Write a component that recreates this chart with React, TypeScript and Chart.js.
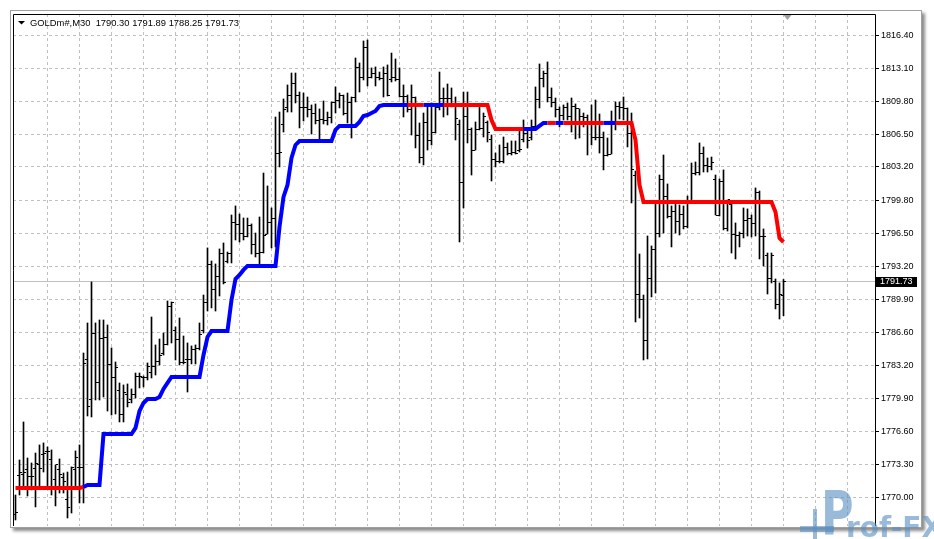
import React, { useEffect, useRef } from "react";
import { Chart, registerables } from "chart.js";

Chart.register(...registerables);

const symbolTitle = "GOLDm#,M30";
const titleQuote = ["1790.30", "1791.89", "1788.25", "1791.73"];
const priceTicks = [1770.0, 1773.3, 1776.6, 1779.9, 1783.2, 1786.6, 1789.9, 1793.2, 1796.5, 1799.8, 1803.2, 1806.5, 1809.8, 1813.1, 1816.4];

const opens = [
  1768.22, 1772.14, 1772.24, 1772.75, 1772.04, 1772.85, 1773.25, 1774.25, 1774.56, 1773.75,
  1771.74, 1772.75, 1771.94, 1769.73, 1770.74, 1772.75, 1772.95, 1772.95, 1783.80, 1779.78,
  1786.51, 1781.49, 1785.91, 1786.01, 1783.30, 1781.99, 1780.78, 1778.27, 1780.38, 1779.78,
  1780.38, 1782.09, 1781.99, 1781.99, 1782.59, 1783.10, 1783.60, 1784.50, 1785.31, 1789.13,
  1786.81, 1785.81, 1783.50, 1783.80, 1783.80, 1784.81, 1784.91, 1786.81, 1789.53, 1793.35,
  1790.84, 1792.14, 1794.55, 1793.65, 1794.55, 1797.57, 1797.37, 1796.56, 1796.16, 1797.27,
  1795.36, 1794.55, 1794.65, 1796.46, 1797.57, 1797.97, 1804.60, 1807.42, 1809.13, 1810.33,
  1811.54, 1810.33, 1809.13, 1809.13, 1808.93, 1808.62, 1807.82, 1807.92, 1807.82, 1808.12,
  1809.63, 1809.83, 1810.33, 1808.62, 1809.63, 1810.13, 1813.15, 1812.14, 1815.16, 1812.14,
  1812.64, 1812.14, 1812.04, 1812.64, 1811.94, 1812.14, 1811.94, 1810.23, 1810.23, 1808.93,
  1810.13, 1806.31, 1804.10, 1807.62, 1805.81, 1806.71, 1809.13, 1810.03, 1810.03, 1810.03,
  1809.43, 1807.42, 1801.59, 1808.22, 1806.92, 1804.90, 1806.92, 1807.02, 1807.62, 1805.91,
  1803.90, 1803.70, 1803.70, 1805.11, 1804.60, 1804.70, 1804.90, 1805.91, 1806.61, 1806.11,
  1807.22, 1809.93, 1812.04, 1812.64, 1810.13, 1809.63, 1808.93, 1808.42, 1809.13, 1808.22,
  1809.23, 1809.03, 1808.22, 1808.12, 1807.42, 1806.11, 1806.11, 1806.11, 1804.40, 1804.50,
  1807.42, 1809.23, 1809.13, 1809.03, 1806.61, 1802.39, 1790.43, 1789.83, 1785.71, 1791.94,
  1794.86, 1796.56, 1801.89, 1800.18, 1798.17, 1798.77, 1797.67, 1798.47, 1797.17, 1799.58,
  1802.59, 1802.69, 1804.60, 1803.30, 1803.20, 1801.89, 1798.37, 1801.69, 1796.97, 1799.38,
  1796.46, 1796.36, 1796.56, 1797.77, 1797.97, 1797.47, 1800.68, 1796.16, 1794.35, 1791.94,
  1791.64, 1789.33, 1790.30,
];

const highs = [
  1770.23, 1773.75, 1777.57, 1773.95, 1773.45, 1774.45, 1775.26, 1775.46, 1775.06, 1774.76,
  1773.25, 1773.85, 1772.44, 1772.54, 1773.05, 1774.66, 1775.26, 1784.50, 1787.52, 1791.64,
  1787.52, 1787.82, 1787.82, 1787.32, 1785.01, 1783.60, 1781.49, 1781.29, 1781.39, 1780.89,
  1782.49, 1782.49, 1782.19, 1783.50, 1788.12, 1785.31, 1785.91, 1786.51, 1789.73, 1789.63,
  1787.12, 1788.02, 1786.21, 1785.51, 1785.21, 1785.31, 1787.52, 1790.33, 1795.06, 1793.75,
  1793.45, 1794.96, 1795.56, 1794.65, 1798.37, 1799.28, 1798.47, 1798.07, 1798.07, 1797.47,
  1796.56, 1798.17, 1802.59, 1801.29, 1799.08, 1808.22, 1808.72, 1810.03, 1811.44, 1812.64,
  1812.64, 1810.73, 1810.63, 1810.23, 1809.43, 1809.53, 1809.03, 1809.83, 1808.72, 1809.73,
  1811.24, 1810.63, 1810.43, 1810.63, 1810.23, 1814.15, 1813.65, 1815.86, 1815.96, 1813.15,
  1813.25, 1812.74, 1813.25, 1813.45, 1814.65, 1814.05, 1813.15, 1811.44, 1810.43, 1811.44,
  1810.23, 1807.62, 1808.62, 1809.43, 1809.63, 1809.43, 1812.74, 1811.14, 1811.54, 1811.14,
  1810.23, 1807.92, 1810.73, 1810.73, 1807.12, 1807.72, 1809.43, 1808.62, 1807.82, 1806.41,
  1804.60, 1805.41, 1806.21, 1805.61, 1805.81, 1805.81, 1806.82, 1807.92, 1807.12, 1807.92,
  1811.24, 1813.55, 1812.84, 1813.75, 1811.14, 1810.13, 1809.23, 1809.43, 1809.63, 1810.13,
  1809.53, 1809.03, 1808.62, 1808.42, 1809.43, 1809.93, 1808.52, 1806.71, 1806.11, 1808.82,
  1809.73, 1809.73, 1810.23, 1809.13, 1808.62, 1802.79, 1794.45, 1790.33, 1796.26, 1795.26,
  1799.58, 1802.39, 1804.40, 1801.49, 1799.28, 1799.78, 1799.38, 1799.28, 1800.28, 1803.60,
  1803.70, 1805.61, 1805.21, 1804.10, 1804.20, 1802.39, 1801.99, 1802.90, 1799.88, 1799.78,
  1797.57, 1796.66, 1799.08, 1798.98, 1798.37, 1801.09, 1800.78, 1796.97, 1794.55, 1794.55,
  1791.94, 1791.54, 1791.89,
];

const lows = [
  1767.72, 1770.23, 1770.94, 1770.13, 1770.74, 1769.03, 1771.04, 1772.54, 1770.94, 1770.23,
  1769.13, 1770.43, 1770.43, 1767.92, 1768.42, 1771.04, 1769.43, 1769.43, 1778.17, 1778.07,
  1779.78, 1779.78, 1780.08, 1778.67, 1778.27, 1778.37, 1777.57, 1777.57, 1779.08, 1779.48,
  1779.98, 1780.99, 1781.09, 1781.79, 1781.99, 1782.29, 1783.30, 1784.30, 1785.31, 1785.51,
  1783.80, 1783.30, 1783.40, 1780.58, 1783.40, 1783.40, 1784.81, 1786.51, 1788.72, 1789.03,
  1788.72, 1790.23, 1791.44, 1793.55, 1793.55, 1795.86, 1795.66, 1795.86, 1796.16, 1794.45,
  1794.15, 1793.35, 1794.55, 1796.46, 1795.06, 1795.16, 1803.20, 1806.71, 1808.72, 1808.72,
  1809.63, 1807.12, 1807.82, 1808.22, 1806.51, 1807.52, 1806.01, 1807.52, 1807.42, 1807.62,
  1808.62, 1809.13, 1808.42, 1807.62, 1806.11, 1809.73, 1810.73, 1811.94, 1811.34, 1812.14,
  1811.34, 1811.94, 1810.23, 1810.33, 1811.74, 1811.84, 1810.23, 1808.22, 1808.72, 1806.41,
  1805.11, 1803.60, 1803.40, 1804.90, 1805.41, 1806.61, 1808.93, 1808.22, 1808.42, 1809.23,
  1805.91, 1795.66, 1799.08, 1805.61, 1802.39, 1804.90, 1806.92, 1806.21, 1805.71, 1801.79,
  1803.20, 1803.60, 1803.60, 1804.40, 1804.40, 1804.50, 1804.70, 1805.71, 1805.11, 1805.91,
  1807.12, 1809.13, 1811.24, 1809.73, 1809.23, 1808.22, 1807.22, 1807.92, 1807.92, 1806.71,
  1806.01, 1806.11, 1807.22, 1804.40, 1805.41, 1805.91, 1804.60, 1802.90, 1804.30, 1804.50,
  1806.92, 1808.02, 1807.92, 1805.21, 1799.58, 1787.62, 1788.02, 1783.80, 1783.90, 1790.13,
  1790.53, 1796.16, 1796.56, 1798.07, 1795.16, 1796.56, 1796.36, 1796.97, 1797.07, 1799.58,
  1802.39, 1802.39, 1802.69, 1802.69, 1802.90, 1798.37, 1798.27, 1796.87, 1796.76, 1794.55,
  1793.95, 1795.16, 1796.06, 1796.26, 1796.16, 1796.26, 1793.95, 1793.25, 1790.43, 1791.54,
  1788.93, 1787.92, 1788.25,
];

const closes = [
  1768.52, 1772.54, 1772.54, 1772.04, 1772.04, 1773.35, 1772.85, 1774.45, 1774.56, 1770.94,
  1773.25, 1772.24, 1771.54, 1768.93, 1772.95, 1773.95, 1772.95, 1783.40, 1779.08, 1786.51,
  1781.49, 1785.91, 1786.01, 1783.30, 1781.99, 1783.00, 1778.27, 1780.58, 1779.48, 1780.38,
  1782.09, 1782.09, 1781.99, 1783.10, 1783.10, 1783.60, 1784.20, 1785.31, 1789.13, 1789.53,
  1785.81, 1783.50, 1783.50, 1783.80, 1784.81, 1784.91, 1786.31, 1789.53, 1793.35, 1790.84,
  1792.14, 1794.55, 1791.54, 1794.55, 1797.57, 1797.37, 1796.56, 1796.16, 1797.27, 1795.36,
  1794.55, 1794.65, 1796.36, 1797.57, 1797.97, 1804.60, 1804.70, 1808.93, 1810.33, 1811.54,
  1810.33, 1809.13, 1809.13, 1808.93, 1808.62, 1807.82, 1807.92, 1807.82, 1808.12, 1809.63,
  1809.83, 1810.33, 1808.62, 1809.63, 1810.13, 1813.15, 1812.14, 1815.16, 1812.14, 1812.64,
  1812.14, 1812.04, 1812.64, 1810.43, 1812.14, 1811.94, 1810.23, 1810.23, 1808.93, 1810.13,
  1806.31, 1804.10, 1807.62, 1805.81, 1806.71, 1809.13, 1810.03, 1810.03, 1810.03, 1809.43,
  1808.02, 1801.59, 1808.22, 1806.92, 1804.90, 1806.92, 1807.02, 1808.22, 1806.71, 1803.90,
  1803.70, 1803.70, 1805.11, 1804.60, 1804.70, 1804.60, 1805.00, 1806.61, 1805.81, 1807.22,
  1809.93, 1812.04, 1812.64, 1810.13, 1809.63, 1808.93, 1808.42, 1809.13, 1808.22, 1809.23,
  1809.03, 1808.22, 1808.12, 1807.42, 1806.11, 1806.11, 1806.11, 1804.40, 1804.50, 1807.42,
  1809.23, 1809.13, 1809.03, 1806.61, 1802.90, 1790.43, 1789.83, 1785.71, 1791.94, 1794.86,
  1796.56, 1801.89, 1800.18, 1798.17, 1798.77, 1797.67, 1798.47, 1797.17, 1799.58, 1802.59,
  1802.69, 1804.60, 1803.30, 1803.20, 1803.60, 1798.37, 1801.69, 1796.97, 1799.88, 1796.46,
  1796.36, 1796.56, 1797.77, 1797.97, 1797.47, 1800.68, 1796.16, 1796.16, 1791.94, 1794.35,
  1789.33, 1790.43, 1791.73,
];

const trendLine = [
  1770.94, 1770.94, 1770.94, 1770.94, 1770.94, 1770.94, 1770.94, 1770.94, 1770.94, 1770.94,
  1770.94, 1770.94, 1770.94, 1770.94, 1770.94, 1770.94, 1770.94, 1771.04, 1771.24, 1771.24,
  1771.24, 1771.24, 1776.36, 1776.36, 1776.36, 1776.36, 1776.36, 1776.36, 1776.36, 1776.36,
  1776.97, 1778.67, 1779.48, 1779.88, 1779.88, 1779.88, 1780.08, 1780.89, 1781.49, 1782.09,
  1782.09, 1782.09, 1782.09, 1782.09, 1782.09, 1782.09, 1782.09, 1784.30, 1786.11, 1786.71,
  1786.71, 1786.71, 1786.71, 1786.71, 1789.83, 1791.94, 1792.34, 1792.85, 1793.25, 1793.25,
  1793.25, 1793.25, 1793.25, 1793.25, 1793.25, 1793.25, 1797.17, 1800.18, 1801.39, 1804.10,
  1805.41, 1805.81, 1805.81, 1805.81, 1805.81, 1805.81, 1805.81, 1805.81, 1805.81, 1805.81,
  1806.92, 1807.32, 1807.32, 1807.32, 1807.32, 1807.32, 1807.72, 1808.32, 1808.42, 1808.62,
  1808.82, 1809.33, 1809.43, 1809.43, 1809.43, 1809.43, 1809.43, 1809.43, 1809.43, 1809.43,
  1809.43, 1809.43, 1809.43, 1809.43, 1809.43, 1809.43, 1809.43, 1809.43, 1809.43, 1809.43,
  1809.43, 1809.43, 1809.43, 1809.43, 1809.43, 1809.43, 1809.43, 1809.43, 1809.43, 1807.92,
  1807.02, 1807.02, 1807.02, 1807.02, 1807.02, 1807.02, 1807.02, 1807.02, 1807.02, 1807.02,
  1807.02, 1807.32, 1807.62, 1807.62, 1807.62, 1807.62, 1807.62, 1807.62, 1807.62, 1807.62,
  1807.62, 1807.62, 1807.62, 1807.62, 1807.62, 1807.62, 1807.62, 1807.62, 1807.62, 1807.62,
  1807.62, 1807.62, 1807.62, 1807.62, 1807.62, 1805.91, 1801.39, 1799.68, 1799.68, 1799.68,
  1799.68, 1799.68, 1799.68, 1799.68, 1799.68, 1799.68, 1799.68, 1799.68, 1799.68, 1799.68,
  1799.68, 1799.68, 1799.68, 1799.68, 1799.68, 1799.68, 1799.68, 1799.68, 1799.68, 1799.68,
  1799.68, 1799.68, 1799.68, 1799.68, 1799.68, 1799.68, 1799.68, 1799.68, 1799.68, 1799.68,
  1798.67, 1796.06, 1795.66,
];

// trend colour per bar: R = red (down), B = blue (up)
const trendColors =
  "RRRRRRRRRRRRRRRRR" +
  "BBBBBBBBBBBBBBBBBBBBBBBBBBBBBBBBBBBBBBBBBBBBBBBBBBBBBBBBBBBBBBBBBBBBBBBBBBBBBBBBB" +
  "RRRR" + "BBBBB" + "RRRRRRRRRRRRRRRRRRRR" + "BBBBBB" + "RR" + "BB" + "RRRRRRRRRR" + "BBB" +
  "RRRRRRRRRRRRRRRRRRRRRRRRRRRRRRRRRRRRRRRRR";

const BLUE = "#0000ff";
const RED = "#ff0000";
const GRID = "#c0c0c0";
const FONT = '"Liberation Sans", Arial, sans-serif';

function tickImage(side: "open" | "close") {
  const c = document.createElement("canvas");
  c.width = 5;
  c.height = 1;
  const g = c.getContext("2d")!;
  g.fillStyle = "#000";
  if (side === "open") g.fillRect(0, 0, 2, 1);
  else g.fillRect(3, 0, 2, 1);
  return c;
}

const decorPlugin = {
  id: "mt4decor",
  beforeDatasetsDraw(chart: any) {
    const { ctx, chartArea, scales } = chart;
    const y = Math.round(scales.y.getPixelForValue(closes[closes.length - 1])) + 0.5;
    ctx.save();
    ctx.strokeStyle = GRID;
    ctx.lineWidth = 1;
    ctx.beginPath();
    ctx.moveTo(chartArea.left, y);
    ctx.lineTo(chartArea.right, y);
    ctx.stroke();
    ctx.restore();
    ctx.imageSmoothingEnabled = false;
  },
  afterDraw(chart: any) {
    const { ctx, chartArea, scales } = chart;
    ctx.save();
    ctx.imageSmoothingEnabled = true;
    // frame lines
    ctx.strokeStyle = "#000";
    ctx.lineWidth = 1;
    ctx.beginPath();
    ctx.moveTo(chartArea.left + 0.5, chartArea.bottom);
    ctx.lineTo(chartArea.left + 0.5, chartArea.top + 0.5);
    ctx.lineTo(chartArea.right + 0.5, chartArea.top + 0.5);
    ctx.lineTo(chartArea.right + 0.5, chartArea.bottom);
    ctx.stroke();

    // title
    ctx.fillStyle = "#000";
    ctx.beginPath();
    ctx.moveTo(18, 21);
    ctx.lineTo(25, 21);
    ctx.lineTo(21.5, 24.5);
    ctx.closePath();
    ctx.fill();
    ctx.font = `9.4px ${FONT}`;
    ctx.textBaseline = "alphabetic";
    ctx.textAlign = "left";
    ctx.fillText(`${symbolTitle}  ${titleQuote.join(" ")}`, 30, 26);

    // chart shift marker
    const sx = scales.x.getPixelForValue(193);
    ctx.fillStyle = "#a0a0a0";
    ctx.beginPath();
    ctx.moveTo(sx - 4, chartArea.top + 1);
    ctx.lineTo(sx + 4, chartArea.top + 1);
    ctx.lineTo(sx, chartArea.top + 6);
    ctx.closePath();
    ctx.fill();

    // current price label
    const last = closes[closes.length - 1];
    const py = Math.round(scales.y.getPixelForValue(last));
    ctx.fillStyle = "#000";
    ctx.fillRect(chartArea.right + 1, py - 4, 41, 10);
    ctx.fillStyle = "#fff";
    ctx.font = `9px ${FONT}`;
    ctx.textBaseline = "middle";
    ctx.fillText(last.toFixed(2), chartArea.right + 5, py + 1);

    // watermark
    ctx.globalAlpha = 0.62;
    ctx.fillStyle = "#5a8fc0";
    ctx.fillRect(813, 509, 4, 30);
    ctx.fillRect(800, 526, 34, 6);
    ctx.save();
    ctx.translate(821, 534);
    ctx.scale(0.74, 1);
    ctx.font = `bold 60px "DejaVu Sans"`;
    ctx.textBaseline = "alphabetic";
    ctx.fillText("P", 0, 0);
    ctx.restore();
    ctx.font = `bold 28px "DejaVu Sans"`;
    ctx.textBaseline = "alphabetic";
    ctx.fillText("rof-FX", 846, 537);
    ctx.restore();
  },
};

export default function App() {
  const ref = useRef<HTMLCanvasElement>(null);
  useEffect(() => {
    const canvas = ref.current!;
    const openImg = tickImage("open");
    const closeImg = tickImage("close");
    const chart = new Chart(canvas, {
      type: "bar",
      data: {
        datasets: [
          {
            type: "line",
            label: "trend",
            data: trendLine.map((v, i) => ({ x: i, y: v })),
            borderWidth: 4,
            borderColor: RED,
            pointRadius: 0,
            tension: 0,
            borderCapStyle: "butt",
            borderJoinStyle: "miter",
            segment: {
              borderColor: (c: any) => (trendColors[c.p0DataIndex] === "B" ? BLUE : RED),
            },
            order: 0,
          } as any,
          {
            type: "scatter",
            label: "open",
            data: opens.map((v, i) => ({ x: i, y: v })),
            pointStyle: openImg,
            pointRadius: 2,
            order: 1,
          } as any,
          {
            type: "scatter",
            label: "close",
            data: closes.map((v, i) => ({ x: i, y: v })),
            pointStyle: closeImg,
            pointRadius: 2,
            order: 1,
          } as any,
          {
            type: "bar",
            label: "range",
            data: highs.map((h, i) => ({ x: i, y: [lows[i], h] })),
            backgroundColor: "#000",
            borderWidth: 0,
            barThickness: 1,
            grouped: false,
            order: 2,
          } as any,
        ],
      },
      options: {
        responsive: false,
        animation: false,
        devicePixelRatio: 1,
        events: [],
        layout: { padding: { left: 13, top: 14, right: 0, bottom: 13 } },
        plugins: { legend: { display: false }, tooltip: { enabled: false } },
        scales: {
          x: {
            type: "linear",
            min: -0.625,
            max: 214.875,
            offset: false,
            afterBuildTicks: (s: any) => {
              const t = [];
              for (let v = 8; v <= 208; v += 8) t.push({ value: v });
              s.ticks = t;
            },
            afterFit: (s: any) => {
              s.height = 0;
            },
            ticks: { display: false },
            grid: { color: GRID, lineWidth: 1, drawTicks: false, offset: false, borderDash: [3, 3] } as any,
            border: { display: false, dash: [3, 3] },
          },
          y: {
            type: "linear",
            position: "right",
            min: 1767.114,
            max: 1818.571,
            afterBuildTicks: (s: any) => {
              s.ticks = priceTicks.map((v) => ({ value: v }));
            },
            afterFit: (s: any) => {
              s.width = 59;
            },
            ticks: {
              autoSkip: false,
              padding: 2,
              color: "#000",
              font: { family: FONT, size: 9 },
              callback: (v: any) => Number(v).toFixed(2),
            },
            grid: { color: GRID, lineWidth: 1, tickColor: "#000", tickLength: 4, borderDash: [3, 3] } as any,
            border: { display: false, dash: [3, 3] },
          },
        },
      },
      plugins: [decorPlugin],
    });
    return () => chart.destroy();
  }, []);

  return (
    <div style={{ position: "fixed", left: 0, top: 0, width: 934, height: 539, background: "#fff", overflow: "hidden" }}>
      <div
        style={{
          position: "absolute",
          left: 10,
          top: 10,
          width: 912,
          height: 518,
          boxSizing: "border-box",
          border: "1px solid #a0a0a0",
          background: "#fff",
          boxShadow: "3px 3px 3px rgba(0,0,0,0.45)",
        }}
      />
      <canvas ref={ref} width={934} height={539} style={{ position: "absolute", left: 0, top: 0, width: 934, height: 539 }} />
    </div>
  );
}
